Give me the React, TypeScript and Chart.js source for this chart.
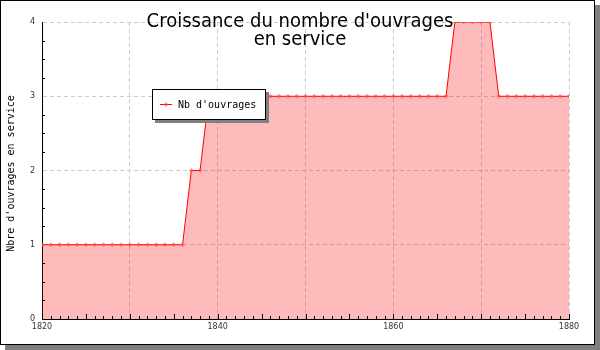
import React, { useEffect, useRef } from "react";
import { Chart, registerables } from "chart.js";

Chart.register(...registerables);

const TITLE_LINES = ["Croissance du nombre d'ouvrages", "en service"];
const Y_TITLE = "Nbre d'ouvrages en service";
const SERIES_LABEL = "Nb d'ouvrages";

const YEARS = [
  1820, 1821, 1822, 1823, 1824, 1825, 1826, 1827, 1828, 1829,
  1830, 1831, 1832, 1833, 1834, 1835, 1836, 1837, 1838, 1839,
  1840, 1841, 1842, 1843, 1844, 1845, 1846, 1847, 1848, 1849,
  1850, 1851, 1852, 1853, 1854, 1855, 1856, 1857, 1858, 1859,
  1860, 1861, 1862, 1863, 1864, 1865, 1866, 1867, 1868, 1869,
  1870, 1871, 1872, 1873, 1874, 1875, 1876, 1877, 1878, 1879,
  1880,
];

const VALUES = [
  1, 1, 1, 1, 1, 1, 1, 1, 1, 1,
  1, 1, 1, 1, 1, 1, 1, 2, 2, 3,
  3, 3, 3, 3, 3, 3, 3, 3, 3, 3,
  3, 3, 3, 3, 3, 3, 3, 3, 3, 3,
  3, 3, 3, 3, 3, 3, 3, 4, 4, 4,
  4, 4, 3, 3, 3, 3, 3, 3, 3, 3,
  3,
];

const X_MIN = 1820;
const X_MAX = 1880;
const Y_MIN = 0;
const Y_MAX = 4;

const LINE_COLOR = "#ff0000";
const FILL_COLOR = "rgba(255,0,0,0.267)";
const POINT_COLOR = "rgba(255,70,70,0.55)";
const GRID_COLOR = "#cccccc";
const SHADOW = "#808080";

export default function App() {
  const ref = useRef<HTMLCanvasElement>(null);

  useEffect(() => {
    const canvas = ref.current;
    if (!canvas) return;

    const decor = {
      id: "decor",
      afterDraw(chart: any) {
        const { ctx, chartArea: ca, scales } = chart;
        const xs = scales.x;
        const ys = scales.y;
        ctx.save();

        // minor/major ticks (inside)
        ctx.strokeStyle = "#000";
        ctx.lineWidth = 1;
        ctx.beginPath();
        for (let v = X_MIN; v <= X_MAX; v++) {
          const px = Math.round(xs.getPixelForValue(v)) + 0.5;
          const len = v % 5 === 0 ? 5 : 3;
          ctx.moveTo(px, ca.bottom);
          ctx.lineTo(px, ca.bottom - len);
        }
        for (let v = Y_MIN; v <= Y_MAX; v += 0.25) {
          if (Number.isInteger(v)) continue;
          const py = Math.round(ys.getPixelForValue(v)) + 0.5;
          ctx.moveTo(ca.left, py);
          ctx.lineTo(ca.left + 3, py);
        }
        ctx.stroke();

        // main title
        ctx.fillStyle = "#000";
        ctx.textAlign = "center";
        ctx.textBaseline = "alphabetic";
        ctx.font = '20px "DejaVu Sans Condensed", "DejaVu Sans"';
        ctx.fillText(TITLE_LINES[0], 300, 27);
        ctx.fillText(TITLE_LINES[1], 300, 45);

        // y axis title
        ctx.save();
        ctx.translate(11, (ca.top + ca.bottom) / 2 + 3);
        ctx.rotate(-Math.PI / 2);
        ctx.font = '10px "DejaVu Sans Mono"';
        ctx.textBaseline = "middle";
        ctx.textAlign = "center";
        ctx.fillText(Y_TITLE, 0, 0);
        ctx.restore();

        // legend
        const lx = 152, ly = 89, lw = 113, lh = 30;
        ctx.fillStyle = SHADOW;
        ctx.fillRect(lx + 3, ly + 3, lw + 1, lh + 1);
        ctx.fillStyle = "#fff";
        ctx.fillRect(lx, ly, lw, lh);
        ctx.strokeStyle = "#000";
        ctx.strokeRect(lx + 0.5, ly + 0.5, lw, lh);
        const ds = chart.data.datasets[0];
        ctx.strokeStyle = ds.borderColor;
        ctx.beginPath();
        ctx.moveTo(160, 104.5);
        ctx.lineTo(172, 104.5);
        ctx.stroke();
        ctx.fillStyle = POINT_COLOR;
        ctx.beginPath();
        ctx.moveTo(166, 102);
        ctx.lineTo(168.5, 104.5);
        ctx.lineTo(166, 107);
        ctx.lineTo(163.5, 104.5);
        ctx.closePath();
        ctx.fill();
        ctx.fillStyle = "#000";
        ctx.textAlign = "left";
        ctx.textBaseline = "alphabetic";
        ctx.font = '10px "DejaVu Sans Mono"';
        ctx.fillText(ds.label, 178, 108);

        // frame + shadow
        ctx.fillStyle = SHADOW;
        ctx.fillRect(595, 5, 5, 345);
        ctx.fillRect(5, 345, 595, 5);
        ctx.strokeStyle = "#000";
        ctx.lineWidth = 1;
        ctx.strokeRect(0.5, 0.5, 594, 344);

        ctx.restore();
      },
    };

    const chart = new Chart(canvas, {
      type: "line",
      data: {
        datasets: [
          {
            label: SERIES_LABEL,
            data: YEARS.map((yr, i) => ({ x: yr, y: VALUES[i] })),
            borderColor: LINE_COLOR,
            borderWidth: 1,
            backgroundColor: FILL_COLOR,
            fill: "origin",
            tension: 0,
            pointStyle: "rectRot",
            pointRadius: 2.5,
            pointBorderWidth: 0,
            pointBackgroundColor: POINT_COLOR,
            pointBorderColor: POINT_COLOR,
          },
        ],
      },
      options: {
        responsive: false,
        animation: false,
        layout: { padding: { left: 0, right: 31, top: 22, bottom: 0 } },
        plugins: {
          legend: { display: false },
          title: { display: false },
          tooltip: { enabled: false },
        },
        scales: {
          x: {
            type: "linear",
            min: X_MIN,
            max: X_MAX,
            afterFit: (s: any) => {
              s.height = 31;
            },
            ticks: {
              stepSize: 1,
              autoSkip: false,
              maxRotation: 0,
              padding: 3,
              color: "#333",
              font: { family: "DejaVu Sans", size: 8 },
              callback: (v: any) => (Number(v) % 20 === 0 ? String(v) : ""),
            },
            grid: {
              drawTicks: false,
              color: (c: any) =>
                c.tick && c.tick.value % 10 === 0 && c.tick.value !== X_MIN
                  ? GRID_COLOR
                  : "rgba(0,0,0,0)",
            },
            border: { display: true, color: "#000", width: 1, dash: [4, 3] },
          },
          y: {
            min: Y_MIN,
            max: Y_MAX,
            afterFit: (s: any) => {
              s.width = 42;
            },
            ticks: {
              stepSize: 0.25,
              autoSkip: false,
              padding: 7,
              color: "#333",
              font: { family: "DejaVu Sans", size: 8 },
              callback: (v: any) => (Number.isInteger(Number(v)) ? String(v) : ""),
            },
            grid: {
              drawTicks: false,
              color: (c: any) =>
                c.tick && Number.isInteger(c.tick.value) && c.tick.value !== Y_MIN
                  ? GRID_COLOR
                  : "rgba(0,0,0,0)",
            },
            border: { display: true, color: "#000", width: 1, dash: [4, 3] },
          },
        },
      },
      plugins: [decor],
    });

    return () => chart.destroy();
  }, []);

  return (
    <canvas
      ref={ref}
      width={600}
      height={350}
      style={{ position: "absolute", left: 0, top: 0, width: 600, height: 350 }}
    />
  );
}
